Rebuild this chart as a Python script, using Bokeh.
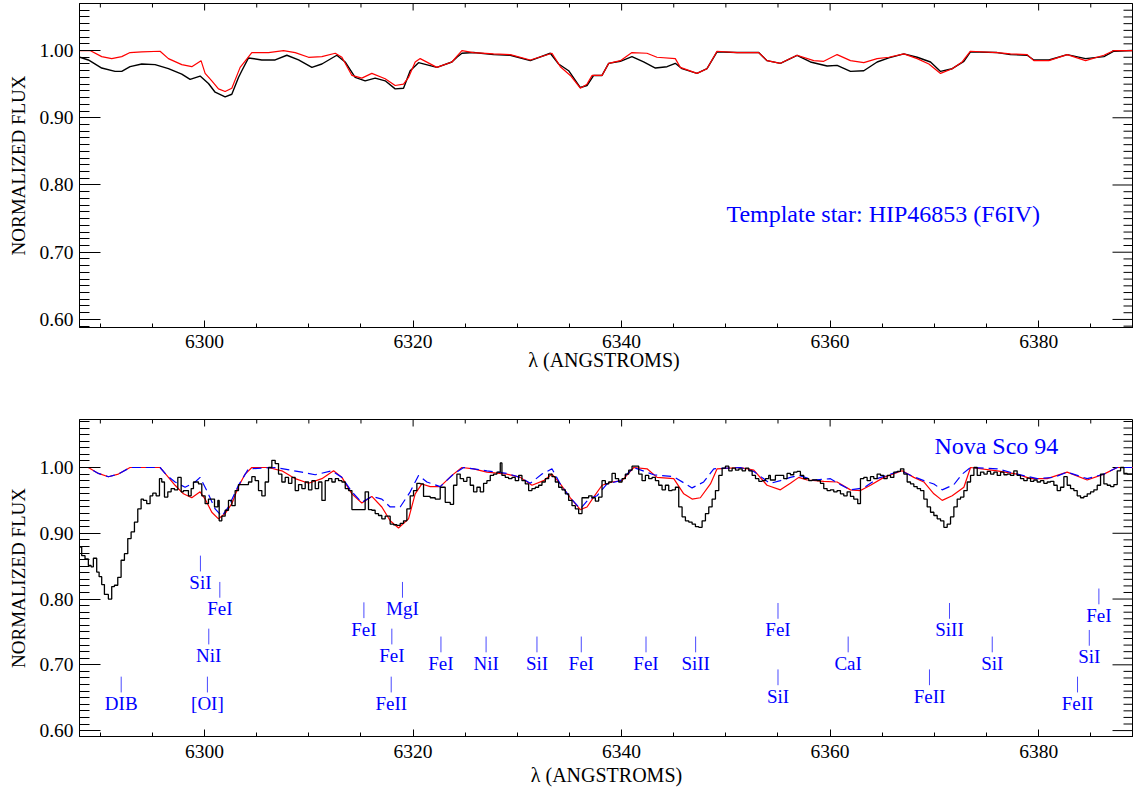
import math
from bokeh.plotting import figure
from bokeh.layouts import column
from bokeh.models import FixedTicker, LinearAxis, Range1d, CustomJSTickFormatter, ColumnDataSource
from bokeh.core.properties import value
from bokeh.embed import file_html
from bokeh.resources import INLINE

# ------------------------------------------------------------------ data
# Top panel: template star HIP46853 (black) and its model (red)
star_wave = [6288.05, 6288.85, 6290.13, 6291.41, 6292.05, 6292.85, 6293.97, 6295.25, 6296.53, 6297.81,
             6298.61, 6299.57, 6300.37, 6301.01, 6301.97, 6302.61, 6303.25, 6303.57, 6304.21, 6305.49,
             6306.77, 6307.89, 6309.01, 6310.29, 6311.25, 6312.68, 6313.48, 6314.44, 6315.40, 6316.36,
             6317.32, 6318.28, 6319.08, 6319.72, 6320.52, 6322.28, 6323.72, 6324.20, 6324.68, 6325.80,
             6327.72, 6329.32, 6331.24, 6333.16, 6333.96, 6334.92, 6336.04, 6336.68, 6337.32, 6338.12,
             6338.76, 6339.88, 6340.99, 6342.11, 6343.24, 6344.36, 6345.15, 6345.79, 6347.23, 6348.19,
             6349.15, 6351.07, 6353.15, 6353.95, 6355.23, 6356.83, 6358.11, 6359.71, 6360.67, 6361.95,
             6363.23, 6364.51, 6365.63, 6367.07, 6368.35, 6369.63, 6370.59, 6371.71, 6372.83, 6373.46,
             6376.02, 6377.30, 6378.90, 6379.54, 6380.98, 6382.74, 6384.50, 6386.26, 6387.22, 6388.98]
star_flux = [0.990, 0.986, 0.974, 0.969, 0.969, 0.976, 0.980, 0.979, 0.973, 0.965,
             0.957, 0.962, 0.951, 0.938, 0.931, 0.935, 0.960, 0.970, 0.989, 0.986,
             0.986, 0.993, 0.986, 0.975, 0.980, 0.993, 0.983, 0.960, 0.955, 0.959,
             0.955, 0.943, 0.944, 0.970, 0.982, 0.975, 0.983, 0.990, 0.996, 0.997,
             0.994, 0.993, 0.985, 0.996, 0.980, 0.970, 0.945, 0.948, 0.963, 0.963,
             0.981, 0.984, 0.991, 0.983, 0.974, 0.976, 0.981, 0.973, 0.966, 0.973,
             0.998, 0.997, 0.997, 0.985, 0.981, 0.993, 0.983, 0.977, 0.978, 0.969,
             0.970, 0.983, 0.989, 0.995, 0.990, 0.983, 0.969, 0.973, 0.984, 0.998,
             0.997, 0.994, 0.993, 0.986, 0.986, 0.994, 0.988, 0.991, 0.999, 1.000]

star_model_wave = [6288.05, 6289.01, 6290.13, 6291.09, 6292.05, 6292.85, 6293.97, 6295.73, 6296.53, 6297.81,
                   6298.77, 6299.66, 6300.05, 6300.69, 6301.33, 6301.97, 6302.61, 6303.41, 6304.53, 6306.13,
                   6307.57, 6308.69, 6309.97, 6311.25, 6312.53, 6313.17, 6314.13, 6315.08, 6316.04, 6317.32,
                   6318.28, 6319.08, 6319.56, 6320.20, 6320.68, 6322.28, 6323.72, 6324.68, 6325.80, 6327.72,
                   6329.32, 6331.24, 6333.32, 6334.12, 6335.08, 6336.04, 6336.68, 6337.16, 6338.12, 6338.76,
                   6339.88, 6340.99, 6342.43, 6343.39, 6345.15, 6345.63, 6347.23, 6348.19, 6349.15, 6351.07,
                   6353.15, 6353.95, 6355.23, 6356.83, 6358.43, 6359.39, 6360.67, 6361.95, 6363.23, 6364.51,
                   6365.63, 6367.07, 6368.35, 6369.47, 6370.59, 6371.71, 6372.66, 6373.46, 6376.02, 6377.30,
                   6378.90, 6379.54, 6380.98, 6382.74, 6384.50, 6386.26, 6387.22, 6388.98]
star_model_flux = [1.000, 1.000, 0.991, 0.988, 0.991, 0.997, 0.998, 0.999, 0.988, 0.979,
                   0.976, 0.985, 0.966, 0.955, 0.943, 0.939, 0.944, 0.975, 0.997, 0.997,
                   1.000, 0.997, 0.990, 0.991, 0.996, 0.990, 0.963, 0.959, 0.966, 0.958,
                   0.948, 0.950, 0.960, 0.983, 0.988, 0.975, 0.983, 1.000, 0.997, 0.995,
                   0.994, 0.986, 0.996, 0.976, 0.963, 0.944, 0.950, 0.963, 0.963, 0.981,
                   0.985, 0.997, 0.996, 0.990, 0.988, 0.975, 0.966, 0.973, 0.999, 0.997,
                   0.997, 0.985, 0.981, 0.993, 0.985, 0.984, 0.994, 0.985, 0.982, 0.988,
                   0.990, 0.995, 0.988, 0.980, 0.966, 0.973, 0.983, 0.999, 0.997, 0.995,
                   0.994, 0.985, 0.985, 0.994, 0.985, 0.993, 1.000, 1.000]

# Bottom panel: Nova Sco 94 spectrum (black histogram, bin start wavelengths)
nova_wave = [6288.05, 6288.21, 6288.53, 6288.85, 6289.11, 6289.33, 6289.65, 6289.88, 6290.13, 6290.39,
             6290.77, 6291.09, 6291.35, 6291.67, 6291.99, 6292.31, 6292.63, 6292.95, 6293.27, 6293.59,
             6293.91, 6294.13, 6294.45, 6294.77, 6295.03, 6295.35, 6295.67, 6295.89, 6296.15, 6296.47,
             6296.79, 6297.11, 6297.43, 6297.75, 6297.97, 6298.45, 6298.71, 6298.93, 6299.41, 6299.73,
             6300.05, 6300.37, 6300.95, 6301.27, 6301.40, 6301.65, 6301.97, 6302.29, 6302.61, 6302.93,
             6303.25, 6304.21, 6304.53, 6304.85, 6305.17, 6305.49, 6305.81, 6306.13, 6306.45, 6306.77,
             6307.09, 6307.41, 6307.73, 6308.05, 6308.37, 6308.69, 6309.01, 6309.33, 6309.65, 6309.97,
             6310.29, 6310.61, 6310.93, 6311.25, 6311.57, 6311.89, 6312.21, 6312.53, 6312.85, 6313.17,
             6313.49, 6313.81, 6314.13, 6315.40, 6315.72, 6316.04, 6316.36, 6316.68, 6317.00, 6317.32,
             6317.80, 6318.12, 6318.44, 6318.76, 6319.08, 6319.40, 6319.72, 6320.04, 6320.36, 6320.68,
             6321.00, 6321.64, 6322.12, 6322.60, 6323.08, 6323.56, 6323.88, 6324.20, 6324.52, 6324.84,
             6325.16, 6325.48, 6325.80, 6326.12, 6326.44, 6326.76, 6327.08, 6327.40, 6327.72, 6328.04,
             6328.36, 6328.52, 6328.84, 6329.16, 6329.48, 6329.80, 6330.12, 6330.44, 6330.76, 6331.08,
             6331.40, 6331.72, 6332.04, 6332.36, 6332.68, 6333.00, 6333.32, 6333.64, 6333.96, 6334.28,
             6334.60, 6334.92, 6335.24, 6335.56, 6335.88, 6336.20, 6336.84, 6337.16, 6337.48, 6337.80,
             6338.12, 6338.44, 6338.76, 6339.08, 6339.40, 6339.72, 6340.04, 6340.36, 6340.68, 6341.00,
             6341.64, 6341.96, 6342.28, 6342.60, 6342.92, 6343.24, 6343.56, 6343.88, 6344.20, 6344.52,
             6344.84, 6345.16, 6345.48, 6345.80, 6346.12, 6346.44, 6346.76, 6347.08, 6347.40, 6347.72,
             6348.04, 6348.36, 6348.68, 6349.00, 6349.32, 6349.64, 6349.96, 6350.28, 6350.60, 6350.92,
             6351.24, 6351.56, 6351.88, 6352.20, 6352.52, 6352.84, 6353.16, 6353.48, 6353.80, 6354.11,
             6354.27, 6354.75, 6355.55, 6355.87, 6356.19, 6356.51, 6356.83, 6357.15, 6357.47, 6357.95,
             6358.27, 6358.75, 6359.07, 6359.39, 6359.71, 6360.03, 6360.35, 6360.67, 6360.99, 6361.31,
             6361.63, 6361.95, 6362.27, 6362.65, 6362.91, 6363.23, 6363.55, 6363.87, 6364.19, 6364.51,
             6364.83, 6365.15, 6365.47, 6365.79, 6366.11, 6366.43, 6366.75, 6367.07, 6367.39, 6367.71,
             6368.03, 6368.35, 6368.67, 6368.99, 6369.31, 6369.63, 6369.95, 6370.27, 6370.59, 6370.91,
             6371.23, 6371.55, 6371.87, 6372.19, 6372.51, 6372.83, 6373.15, 6373.47, 6373.79, 6374.11,
             6374.43, 6374.75, 6375.07, 6375.39, 6375.71, 6376.03, 6376.35, 6376.67, 6376.99, 6377.30,
             6377.62, 6377.94, 6378.26, 6378.58, 6378.90, 6379.22, 6379.54, 6379.86, 6380.18, 6380.50,
             6380.82, 6381.14, 6381.46, 6381.78, 6382.10, 6382.42, 6382.74, 6383.06, 6383.38, 6383.70,
             6384.02, 6384.34, 6384.66, 6384.98, 6385.30, 6385.62, 6385.94, 6386.26, 6386.58, 6386.90,
             6387.22, 6387.54, 6387.86, 6388.18, 6388.50, 6389.10]
nova_flux = [0.879, 0.866, 0.861, 0.851, 0.849, 0.862, 0.841, 0.834, 0.822, 0.807,
             0.800, 0.819, 0.821, 0.833, 0.859, 0.869, 0.892, 0.902, 0.917, 0.937,
             0.952, 0.950, 0.945, 0.957, 0.961, 0.957, 0.983, 0.978, 0.955, 0.963,
             0.968, 0.966, 0.985, 0.963, 0.965, 0.957, 0.968, 0.978, 0.975, 0.957,
             0.945, 0.952, 0.940, 0.950, 0.919, 0.926, 0.935, 0.950, 0.942, 0.965,
             0.974, 0.978, 0.986, 0.980, 0.965, 0.957, 0.978, 1.000, 1.011, 1.006,
             0.990, 0.978, 0.985, 0.976, 0.985, 0.965, 0.974, 0.968, 0.978, 0.966,
             0.980, 0.968, 0.978, 0.950, 0.980, 0.983, 0.978, 0.983, 0.980, 0.978,
             0.968, 0.965, 0.936, 0.963, 0.936, 0.935, 0.930, 0.927, 0.922, 0.926,
             0.914, 0.913, 0.912, 0.915, 0.919, 0.937, 0.957, 0.965, 0.976, 0.975,
             0.956, 0.954, 0.952, 0.970, 0.947, 0.944, 0.973, 0.990, 0.983, 0.979,
             0.985, 0.973, 0.963, 0.970, 0.963, 0.976, 0.980, 0.988, 0.990, 0.993,
             1.007, 0.988, 0.985, 0.983, 0.985, 0.980, 0.988, 0.980, 0.975, 0.965,
             0.968, 0.970, 0.973, 0.978, 0.983, 0.990, 0.986, 0.978, 0.970, 0.966,
             0.960, 0.950, 0.942, 0.937, 0.930, 0.954, 0.957, 0.954, 0.949, 0.955,
             0.980, 0.975, 0.978, 0.991, 0.983, 0.978, 0.983, 0.990, 0.996, 1.002,
             0.990, 0.980, 0.988, 0.983, 0.985, 0.980, 0.973, 0.966, 0.973, 0.965,
             0.966, 0.970, 0.940, 0.925, 0.919, 0.917, 0.914, 0.910, 0.909, 0.919,
             0.930, 0.940, 0.952, 0.965, 0.988, 0.999, 1.002, 0.995, 0.999, 0.996,
             0.998, 0.995, 0.999, 0.995, 0.988, 0.983, 0.979, 0.980, 0.983, 0.988,
             0.981, 0.988, 0.983, 0.991, 0.989, 0.993, 0.994, 0.988, 0.983, 0.980,
             0.981, 0.980, 0.976, 0.968, 0.965, 0.966, 0.963, 0.965, 0.960, 0.957,
             0.963, 0.956, 0.952, 0.945, 0.983, 0.985, 0.980, 0.986, 0.983, 0.990,
             0.988, 0.983, 0.988, 0.985, 0.993, 0.994, 0.998, 0.990, 0.978, 0.975,
             0.971, 0.968, 0.965, 0.952, 0.940, 0.932, 0.927, 0.922, 0.919, 0.909,
             0.914, 0.925, 0.940, 0.952, 0.955, 0.965, 0.978, 0.988, 1.000, 0.988,
             0.993, 0.990, 0.994, 0.990, 0.993, 0.988, 0.993, 0.989, 0.990, 0.988,
             0.995, 0.988, 0.983, 0.980, 0.984, 0.979, 0.981, 0.978, 0.980, 0.976,
             0.978, 0.979, 0.973, 0.965, 0.970, 0.986, 0.973, 0.968, 0.965, 0.957,
             0.954, 0.956, 0.960, 0.963, 0.966, 0.973, 0.990, 0.975, 0.973, 0.971,
             0.974, 0.995, 1.000, 0.991, 0.990, 0.990]

# Bottom panel: template fit (red, solid)
fit_wave = [6288.05, 6288.85, 6289.81, 6290.77, 6291.73, 6292.85, 6293.97, 6295.73, 6296.37, 6297.17,
            6297.97, 6298.77, 6299.57, 6300.05, 6300.69, 6301.33, 6301.97, 6302.61, 6303.25, 6303.89,
            6304.53, 6306.13, 6307.41, 6308.69, 6309.97, 6311.25, 6312.37, 6313.17, 6314.13, 6315.08,
            6316.04, 6317.00, 6317.80, 6318.60, 6319.56, 6320.20, 6320.84, 6321.64, 6322.60, 6323.72,
            6324.68, 6325.80, 6327.08, 6328.99, 6330.28, 6331.40, 6332.52, 6333.32, 6334.12, 6335.08,
            6336.04, 6336.68, 6337.32, 6338.12, 6339.08, 6340.04, 6341.16, 6342.44, 6343.40, 6345.00,
            6345.96, 6346.76, 6347.55, 6348.52, 6349.16, 6351.39, 6352.68, 6353.95, 6355.23, 6356.19,
            6356.99, 6357.79, 6359.39, 6360.67, 6361.95, 6362.91, 6363.87, 6365.15, 6366.91, 6368.03,
            6368.99, 6369.95, 6370.75, 6371.71, 6372.83, 6373.47, 6376.03, 6377.94, 6379.22, 6380.82,
            6382.74, 6384.66, 6386.26, 6387.54, 6389.07]
fit_flux = [1.000, 1.000, 0.991, 0.986, 0.990, 1.000, 1.000, 1.000, 0.988, 0.973,
            0.960, 0.954, 0.963, 0.952, 0.932, 0.922, 0.930, 0.945, 0.971, 0.990,
            1.000, 1.000, 0.995, 0.983, 0.976, 0.983, 0.995, 0.985, 0.960, 0.946,
            0.956, 0.940, 0.919, 0.908, 0.922, 0.960, 0.975, 0.971, 0.971, 0.988,
            1.000, 0.998, 0.993, 0.990, 0.985, 0.973, 0.980, 0.990, 0.975, 0.954,
            0.936, 0.940, 0.955, 0.973, 0.978, 0.980, 1.000, 0.998, 0.985, 0.983,
            0.960, 0.952, 0.954, 0.975, 0.998, 1.000, 0.996, 0.973, 0.966, 0.976,
            0.985, 0.981, 0.979, 0.978, 0.966, 0.965, 0.973, 0.985, 0.995, 0.985,
            0.978, 0.960, 0.950, 0.957, 0.970, 1.000, 0.995, 0.990, 0.983, 0.983,
            0.993, 0.981, 0.990, 1.000, 1.000]

# Bottom panel: second fit (blue, dashed)
fit2_wave = [6288.05, 6288.85, 6289.81, 6290.77, 6291.73, 6292.85, 6295.73, 6296.37, 6297.17, 6298.13,
             6299.09, 6299.57, 6300.21, 6301.01, 6301.65, 6302.29, 6303.25, 6304.21, 6306.77, 6309.33,
             6310.61, 6312.21, 6313.17, 6314.13, 6315.08, 6316.04, 6317.00, 6317.80, 6318.76, 6319.72,
             6320.52, 6321.32, 6322.60, 6323.88, 6324.84, 6327.08, 6328.99, 6330.28, 6331.24, 6332.36,
             6333.32, 6334.12, 6335.08, 6336.04, 6336.84, 6337.64, 6338.60, 6339.88, 6341.16, 6343.08,
             6345.00, 6346.76, 6347.87, 6348.84, 6351.39, 6352.68, 6353.95, 6354.27, 6355.23, 6356.19,
             6356.99, 6358.43, 6360.03, 6360.99, 6361.95, 6363.23, 6364.51, 6366.75, 6368.03, 6368.99,
             6369.95, 6370.75, 6371.87, 6372.67, 6373.47, 6376.03, 6377.94, 6379.86, 6381.46, 6382.74,
             6384.66, 6386.26, 6387.54, 6389.07]
fit2_flux = [1.000, 1.000, 0.991, 0.986, 0.990, 1.000, 1.000, 0.988, 0.978, 0.970,
             0.978, 0.985, 0.965, 0.937, 0.926, 0.940, 0.973, 0.998, 1.000, 0.993,
             0.989, 0.995, 0.985, 0.963, 0.947, 0.956, 0.952, 0.940, 0.940, 0.963,
             0.988, 0.978, 0.971, 0.990, 1.000, 0.995, 0.991, 0.985, 0.976, 0.990,
             0.998, 0.975, 0.954, 0.937, 0.952, 0.957, 0.975, 0.980, 1.000, 0.989,
             0.986, 0.969, 0.978, 0.998, 1.000, 0.994, 0.979, 0.976, 0.980, 0.985,
             0.988, 0.981, 0.983, 0.974, 0.966, 0.969, 0.983, 0.995, 0.986, 0.980,
             0.975, 0.966, 0.974, 0.990, 1.000, 0.998, 0.990, 0.983, 0.985, 0.993,
             0.983, 0.990, 1.000, 1.000]

# Line identifications (bottom panel): name, wavelength, flux at top of marker
line_names = ["DIB", "SiI", "NiI", "[OI]", "FeI", "FeI", "MgI", "FeI", "FeII", "FeI",
              "NiI", "SiI", "FeI", "FeI", "SiII", "FeI", "SiI", "CaI", "FeII", "SiII",
              "SiI", "FeII", "SiI", "FeI"]
line_waves = [6292.0, 6299.6, 6300.4, 6300.27, 6301.46, 6315.28, 6318.98, 6317.96, 6317.9, 6322.67,
              6327.0, 6331.88, 6336.13, 6342.34, 6347.1, 6355.0, 6355.0, 6361.73, 6369.53, 6371.45,
              6375.55, 6383.73, 6384.86, 6385.78]
line_levels = [0.682, 0.866, 0.755, 0.682, 0.826, 0.795, 0.826, 0.755, 0.682, 0.743,
               0.743, 0.743, 0.743, 0.743, 0.743, 0.794, 0.693, 0.743, 0.693, 0.794,
               0.743, 0.682, 0.753, 0.816]

x_major = [6300, 6320, 6340, 6360, 6380]
y_major = [0.60, 0.70, 0.80, 0.90, 1.00]

# ------------------------------------------------------------------ style
FONT = "Liberation Serif"
X_MINOR = [6290 + 5 * i for i in range(20)]
Y_MINOR = [round(0.59 + 0.01 * i, 2) for i in range(49)]
XLO, XHI = 6288.0, 6389.1


def style_axis(ax, major_in, minor_in, standoff):
    ax.axis_line_color = "black"
    ax.axis_line_width = 1
    ax.major_tick_line_color = "black"
    ax.minor_tick_line_color = "black"
    ax.major_tick_in = major_in
    ax.major_tick_out = 0
    ax.minor_tick_in = minor_in
    ax.minor_tick_out = 0
    ax.major_label_text_font = FONT
    ax.major_label_text_color = "black"
    ax.major_label_text_font_size = "19.5px"
    ax.major_label_standoff = standoff


def make_panel(height, btop, bbottom, ylo, yhi, xlabel, tick_standoff, lab_standoff):
    p = figure(width=1133, height=height, output_backend="svg", toolbar_location=None,
               x_range=Range1d(XLO, XHI), y_range=Range1d(ylo, yhi),
               x_axis_type=None, y_axis_type=None,
               min_border_left=79, min_border_right=0,
               min_border_top=btop, min_border_bottom=bbottom)
    p.outline_line_color = "black"
    p.outline_line_width = 1
    p.background_fill_color = "white"
    p.border_fill_color = "white"

    xb = LinearAxis(ticker=FixedTicker(ticks=x_major, minor_ticks=X_MINOR),
                    formatter=CustomJSTickFormatter(code="return tick.toFixed(0);"))
    style_axis(xb, 7, 4, tick_standoff)
    xb.axis_label = xlabel
    xb.axis_label_text_font = FONT
    xb.axis_label_text_font_size = "20px"
    xb.axis_label_text_font_style = "normal"
    xb.axis_label_text_color = "black"
    xb.axis_label_standoff = lab_standoff
    p.add_layout(xb, "below")

    yl = LinearAxis(ticker=FixedTicker(ticks=y_major, minor_ticks=Y_MINOR),
                    formatter=CustomJSTickFormatter(code="return tick.toFixed(2);"))
    style_axis(yl, 21, 10, 6)
    yl.axis_label = "NORMALIZED FLUX"
    yl.axis_label_text_font = FONT
    yl.axis_label_text_font_size = "19px"
    yl.axis_label_text_font_style = "normal"
    yl.axis_label_text_color = "black"
    yl.axis_label_standoff = 7
    p.add_layout(yl, "left")

    # mirrored inward ticks on the top and right frame edges
    xmin_only = [v for v in X_MINOR if v not in x_major]
    ymin_only = [v for v in Y_MINOR if all(abs(v - m) > 1e-6 for m in y_major)]
    p.ray(x=x_major, y=[yhi] * len(x_major), length=7, length_units="screen",
          angle=-math.pi / 2, line_color="black", line_width=1)
    p.ray(x=xmin_only, y=[yhi] * len(xmin_only), length=4, length_units="screen",
          angle=-math.pi / 2, line_color="black", line_width=1)
    p.ray(x=[XHI] * len(y_major), y=y_major, length=21, length_units="screen",
          angle=math.pi, line_color="black", line_width=1)
    p.ray(x=[XHI] * len(ymin_only), y=ymin_only, length=10, length_units="screen",
          angle=math.pi, line_color="black", line_width=1)
    return p


# ------------------------------------------------------------------ top panel
top = make_panel(400, 3, 73, 0.588, 1.070, "\u03bb  (ANGSTROMS)", 7, -2)
n = min(len(star_wave), len(star_flux))
top.line(star_wave[:n], star_flux[:n], line_color="black", line_width=1.4)
n = min(len(star_model_wave), len(star_model_flux))
top.line(star_model_wave[:n], star_model_flux[:n], line_color="red", line_width=1.2)
top.text(x=[6350.05], y=[0.757], text=["Template star:  HIP46853 (F6IV)"],
         text_font=value(FONT), text_font_size="24px", text_color="blue",
         text_align="left", text_baseline="middle")

# ------------------------------------------------------------------ bottom panel
bot = make_panel(393, 19, 57, 0.591, 1.073, "\u03bb (ANGSTROMS)", 8, 3)
n = min(len(fit_wave), len(fit_flux))
bot.line(fit_wave[:n], fit_flux[:n], line_color="red", line_width=1.2)
n = min(len(fit2_wave), len(fit2_flux))
bot.line(fit2_wave[:n], fit2_flux[:n], line_color="blue", line_width=1.2, line_dash="9 5")
n = min(len(nova_wave), len(nova_flux))
bot.step(nova_wave[:n], nova_flux[:n], mode="after", line_color="black", line_width=1.3)

n = min(len(line_names), len(line_waves), len(line_levels))
ids = ColumnDataSource(dict(
    name=line_names[:n], x=line_waves[:n], top=line_levels[:n],
    bottom=[v - 0.024 for v in line_levels[:n]],
    ty=[v - 0.0406 for v in line_levels[:n]]))
bot.segment(x0="x", y0="top", x1="x", y1="bottom", source=ids, line_color="#4a4aff", line_width=1)
bot.text(x="x", y="ty", text="name", source=ids, text_font=value(FONT), text_font_size="19px",
         text_color="blue", text_align="center", text_baseline="middle")

bot.text(x=[6370.0], y=[1.033], text=["Nova Sco 94"], text_font=value(FONT), text_font_size="24px",
         text_color="blue", text_align="left", text_baseline="middle")

layout = column(top, bot, spacing=0)
open("out.html", "w").write(file_html(layout, INLINE))
